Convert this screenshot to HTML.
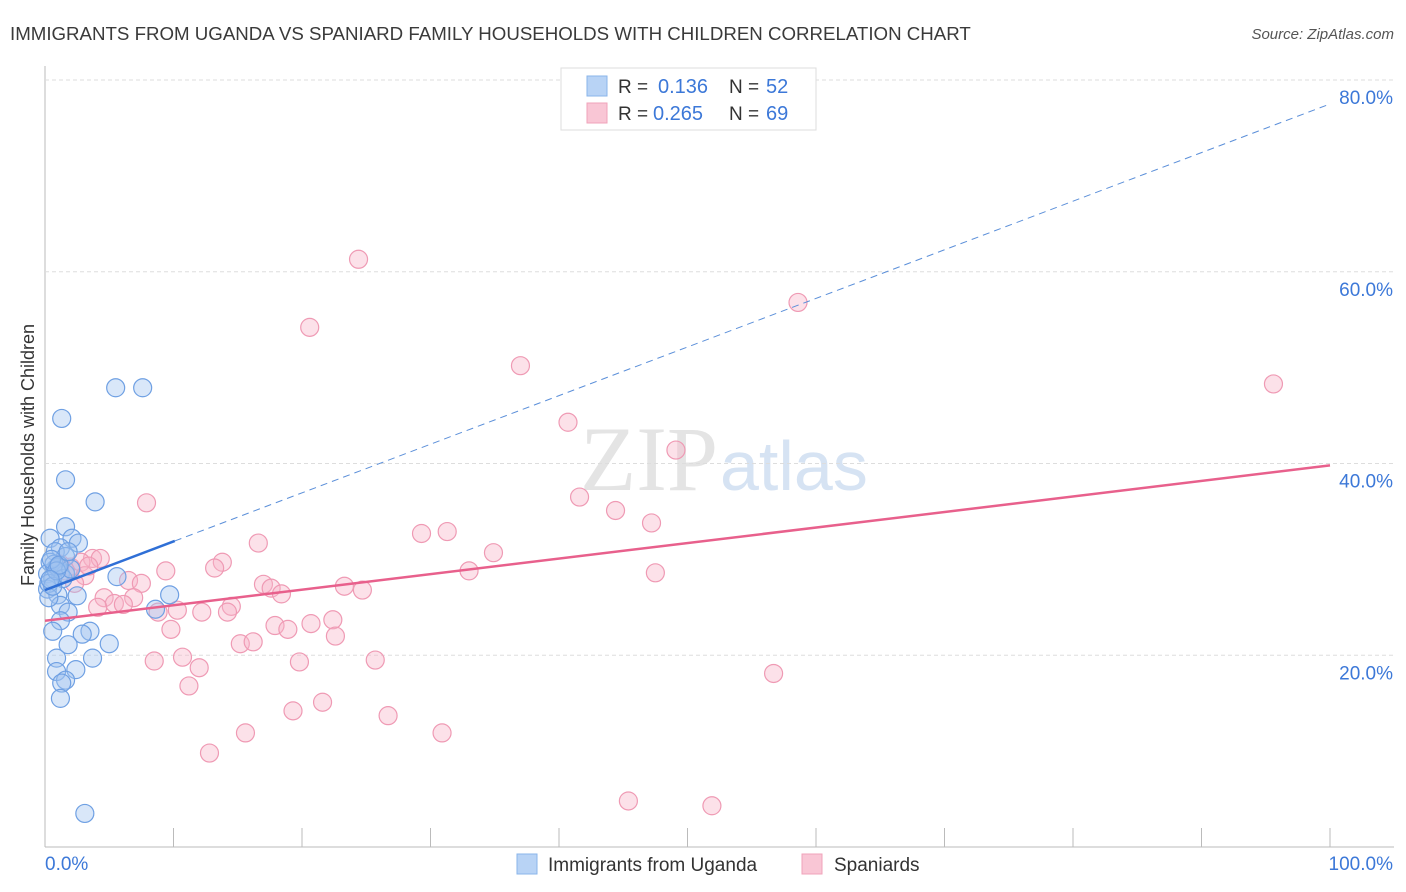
<!DOCTYPE html>
<html><head><meta charset="utf-8"><style>
body{margin:0;background:#fff;font-family:"Liberation Sans",sans-serif;}
#wrap{position:relative;width:1406px;height:892px;overflow:hidden}
</style></head><body>
<div id="wrap">
<svg id="svg" width="1406" height="892" xmlns="http://www.w3.org/2000/svg">
<text x="10" y="40" font-size="18.7" fill="#3a3a3a">IMMIGRANTS FROM UGANDA VS SPANIARD FAMILY HOUSEHOLDS WITH CHILDREN CORRELATION CHART</text>
<text x="1394" y="39" font-size="15" fill="#555" text-anchor="end" font-style="italic">Source: ZipAtlas.com</text>
<text x="718" y="490" font-size="92" fill="#e4e4e4" text-anchor="end" font-family="Liberation Serif">ZIP</text>
<text x="720" y="490" font-size="70" fill="#d6e3f3">atlas</text>
<text transform="translate(34,455) rotate(-90)" font-size="18" fill="#333" text-anchor="middle">Family Households with Children</text>
<g id="grid"></g><g id="marks"></g>
<g>
<rect x="561" y="68" width="255" height="62" fill="#fff" stroke="#ddd"/>
<rect x="587" y="76" width="20" height="20" fill="#b8d3f5" stroke="#8ab4ea"/>
<rect x="587" y="103" width="20" height="20" fill="#f9c6d5" stroke="#f0a3ba"/>
<text x="618" y="93" font-size="19" fill="#333">R =</text>
<text x="658" y="93" font-size="20" fill="#3c78d8">0.136</text>
<text x="729" y="93" font-size="19" fill="#333">N =</text>
<text x="766" y="93" font-size="20" fill="#3c78d8">52</text>
<text x="618" y="120" font-size="19" fill="#333">R =</text>
<text x="653" y="120" font-size="20" fill="#3c78d8">0.265</text>
<text x="729" y="120" font-size="19" fill="#333">N =</text>
<text x="766" y="120" font-size="20" fill="#3c78d8">69</text>
</g>
<g>
<rect x="517" y="854" width="20" height="20" fill="#b8d3f5" stroke="#8ab4ea"/>
<text x="548" y="871" font-size="19" fill="#333">Immigrants from Uganda</text>
<rect x="802" y="854" width="20" height="20" fill="#f9c6d5" stroke="#f0a3ba"/>
<text x="834" y="871" font-size="19" fill="#333">Spaniards</text>
</g>
</svg></div>
<script>
const yTicks=[20,40,60,80];
const xTickLabels=["0.0%","100.0%"];
const blueX=[3.1,5.5,7.6,1.3,1.6,3.9,1.6,0.4,2.1,2.6,1.2,0.8,1.6,0.4,0.8,0.2,1.2,0.6,1.6,0.2,1.0,5.6,8.6,9.7,2.5,1.2,1.8,1.2,3.5,2.9,0.6,5.0,1.8,0.9,3.7,2.4,0.9,1.6,1.3,1.2,0.3,0.7,1.0,0.5,1.4,2.0,0.3,0.6,0.9,1.1,1.8,0.4];
const blueY=[3.5,47.9,47.9,44.7,38.3,36.0,33.4,32.2,32.2,31.7,31.2,30.8,30.3,29.7,29.0,28.5,28.5,28.0,28.5,26.9,26.3,28.2,24.8,26.3,26.2,25.2,24.5,23.6,22.5,22.2,22.5,21.2,21.1,19.7,19.7,18.5,18.3,17.4,17.1,15.5,27.5,29.5,29.2,30.0,28.0,29.0,26.0,27.2,28.8,29.4,30.8,27.9];
const pinkX=[24.4,20.6,58.6,37,95.6,40.7,49.1,7.9,41.6,44.4,47.2,31.3,29.3,16.6,34.9,3.7,13.8,13.2,33,47.5,9.4,6.5,7.5,17,17.6,23.3,24.7,18.4,4.6,6.9,5.4,4.1,6.1,14.5,8.8,10.3,12.2,14.2,22.4,20.7,17.9,18.9,9.8,22.6,15.2,16.2,10.7,8.5,19.8,25.7,12,56.7,11.2,21.6,19.3,26.7,15.6,30.9,12.8,45.4,51.9,1.2,2.0,2.8,4.3,3.1,2.3,1.6,3.4];
const pinkY=[61.3,54.2,56.8,50.2,48.3,44.3,41.4,35.9,36.5,35.1,33.8,32.9,32.7,31.7,30.7,30.1,29.7,29.1,28.8,28.6,28.8,27.8,27.5,27.4,27.0,27.2,26.8,26.4,26.0,26.0,25.4,25.0,25.3,25.1,24.5,24.7,24.5,24.5,23.7,23.3,23.1,22.7,22.7,22.0,21.2,21.4,19.8,19.4,19.3,19.5,18.7,18.1,16.8,15.1,14.2,13.7,11.9,11.9,9.8,4.8,4.3,29.5,29.2,29.7,30.1,28.3,27.5,28.8,29.3];
const blueTrend=[26.8,77.5], blueSolidEnd=10.1;
const pinkTrend=[23.6,39.8];
const NS='http://www.w3.org/2000/svg';
const X=p=>45+p*12.85, Y=v=>847-v*9.5875;
function mk(t,a,par){const e=document.createElementNS(NS,t);for(const k in a)e.setAttribute(k,a[k]);document.getElementById(par).appendChild(e);return e;}
const g='grid';
let ax=mk('line',{x1:45,y1:66,x2:45,y2:847,stroke:'#bbb'},g);


let bx=mk('line',{x1:45,y1:847,x2:1394,y2:847,stroke:'#bbb'},g);


for(let i=1;i<=10;i++){const t=mk('line',{x1:45+i*128.5,y1:828,x2:45+i*128.5,y2:847,stroke:'#bbb'},g);

}
yTicks.forEach(v=>{const l=mk('line',{x1:45,x2:1394,y1:Y(v),y2:Y(v),stroke:'#ddd','stroke-dasharray':'4,3'},g);


const t=mk('text',{x:1393,y:Y(v)+24,'font-size':19,fill:'#3c78d8','text-anchor':'end'},g);t.textContent=v.toFixed(1)+'%';

});
let xl=mk('text',{x:45,y:870,'font-size':19,fill:'#3c78d8'},g);xl.textContent=xTickLabels[0];


let xr=mk('text',{x:1393,y:870,'font-size':19,fill:'#3c78d8','text-anchor':'end'},g);xr.textContent=xTickLabels[1];


const m='marks';
pinkX.forEach((x,i)=>{const c=mk('circle',{cx:X(x),cy:Y(pinkY[i]),r:9,fill:'rgba(248,180,200,0.4)',stroke:'#ef9ab4','stroke-width':1.2},m);

});
blueX.forEach((x,i)=>{const c=mk('circle',{cx:X(x),cy:Y(blueY[i]),r:9,fill:'rgba(160,195,240,0.4)',stroke:'#6fa0e3','stroke-width':1.2},m);

});
const bAt=p=>blueTrend[0]+(blueTrend[1]-blueTrend[0])*p/100;
let bd=mk('line',{x1:X(blueSolidEnd),y1:Y(bAt(blueSolidEnd)),x2:X(100),y2:Y(bAt(100)),stroke:'#5b8fd9','stroke-width':1,'stroke-dasharray':'7,5'},m);


let bs=mk('line',{x1:X(0),y1:Y(bAt(0)),x2:X(blueSolidEnd),y2:Y(bAt(blueSolidEnd)),stroke:'#2f6fd6','stroke-width':2.5},m);


let ps=mk('line',{x1:X(0),y1:Y(pinkTrend[0]),x2:X(100),y2:Y(pinkTrend[1]),stroke:'#e8608c','stroke-width':2.5},m);


</script>
</body></html>
